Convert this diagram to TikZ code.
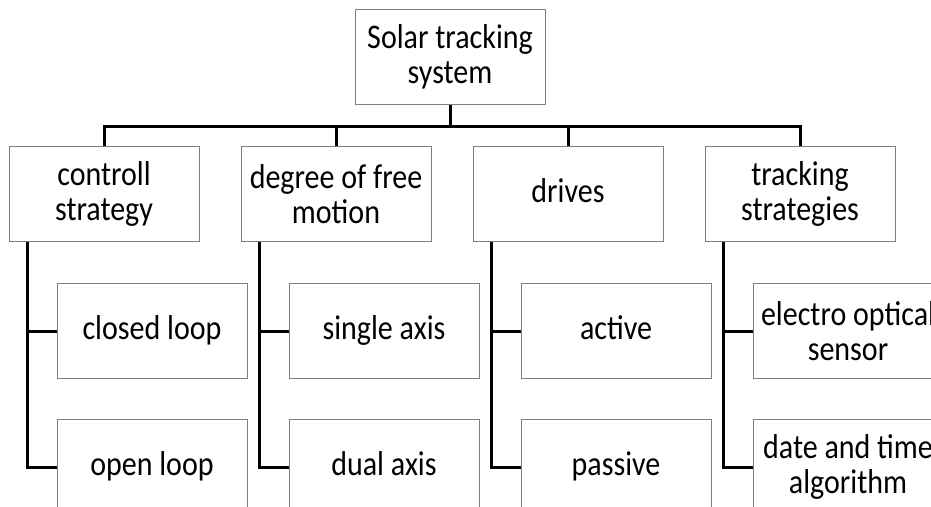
\documentclass[tikz,border=0pt]{standalone}
\usepackage{fontspec}
\setmainfont{Carlito}[FakeStretch=0.87]
\usetikzlibrary{positioning}

\begin{document}
\begin{tikzpicture}[x=1pt, y=1pt, node distance = 41pt,
  box/.style={draw=gray, line width=1pt, minimum width=190pt, minimum height=95pt, inner sep=0pt, align=center, font=\fontsize{34.5}{35}\selectfont},
  oneline/.style={text height=24pt, text depth=7pt},
  link/.style={draw, line width=3pt}]

\useasboundingbox (0,0) rectangle (931,-506);
\clip (0,0) rectangle (931,-506);

%nodes
\node [box] (1) at (450,-57) {Solar tracking\\system};

\node [box, below=of 1, xshift=-346pt] (2) {controll\\strategy};
\node [box, right=of 2] (3) {degree of free\\motion};
\node [box, oneline, right=of 3] (4) {drives};
\node [box, right=of 4] (5) {tracking\\strategies};

\node [box, oneline, below=of 2, xshift=48pt] (6) {closed loop};
\node [box, oneline, below=40pt of 6] (7) {open loop};
\node [box, oneline, below=of 3, xshift=48pt] (8) {single axis};
\node [box, oneline, below=40pt of 8] (9) {dual axis};
\node [box, oneline, below=of 4, xshift=48pt] (10) {active};
\node [box, oneline, below=40pt of 10] (11) {passive};
\node [box, below=of 5, xshift=48pt] (12) {electro optical\\sensor};
\node [box, below=40pt of 12] (13) {date and time\\algorithm};

%arrows
\path [link] (1.south) -- ++(0,-21) coordinate (bar);
\path [link] (bar) -| (2.north);
\path [link] (bar) -| (3.north);
\path [link] (bar) -| (4.north);
\path [link] (bar) -| (5.north);

\path [link] ([xshift=19pt]2.south west) |- (6.west);
\path [link] ([xshift=19pt]2.south west) |- (7.west);
\path [link] ([xshift=19pt]3.south west) |- (8.west);
\path [link] ([xshift=19pt]3.south west) |- (9.west);
\path [link] ([xshift=19pt]4.south west) |- (10.west);
\path [link] ([xshift=19pt]4.south west) |- (11.west);
\path [link] ([xshift=19pt]5.south west) |- (12.west);
\path [link] ([xshift=19pt]5.south west) |- (13.west);

\end{tikzpicture}
\end{document}
